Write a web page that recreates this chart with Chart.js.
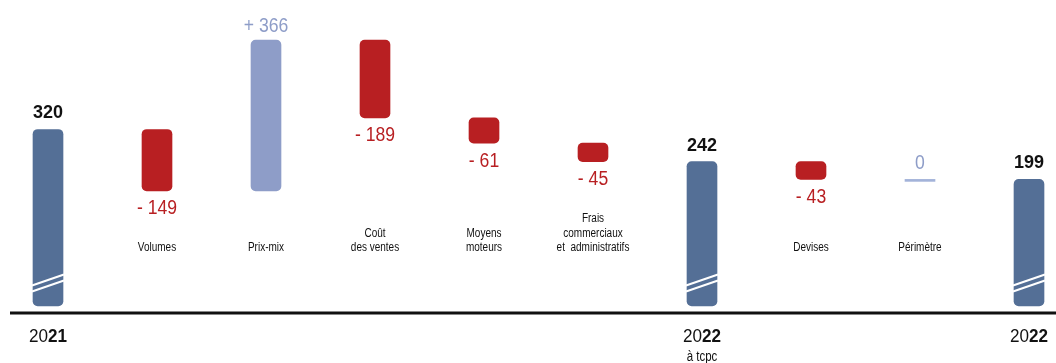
<!DOCTYPE html>
<html><head><meta charset="utf-8">
<script src="https://cdn.jsdelivr.net/npm/chart.js@4.4.1/dist/chart.umd.min.js"></script>
<style>html,body{margin:0;padding:0;background:#fff;}#wrap{width:1056px;height:363px;position:relative}</style>
</head><body><div id="wrap"><canvas id="c" width="1056" height="363"></canvas></div>
<script>
// ---- data ----
const categories = [
  ['2021'],
  ['Volumes'],
  ['Prix-mix'],
  ['Coût', 'des ventes'],
  ['Moyens', 'moteurs'],
  ['Frais', 'commerciaux', 'et  administratifs'],
  ['2022', 'à tcpc'],
  ['Devises'],
  ['Périmètre'],
  ['2022']
];
const values = [320, -149, 366, -189, -61, -45, 242, -43, 0, 199];
const kinds = ['total', 'delta', 'delta', 'delta', 'delta', 'delta', 'total', 'delta', 'delta', 'total'];

// ---- style ----
const BREAK_BASE = -108;   // visual base of the broken total bars
const FONT = "'Liberation Sans', Arial, sans-serif";
const C_TOTAL = '#546f96', C_NEG = '#b81f22', C_POS = '#8e9dc8', C_ZERO = '#a3b3d9';

// floating ranges built from the values
let cum = 0;
const ranges = values.map((v, i) => {
  if (kinds[i] === 'total') { cum = v; return [BREAK_BASE, v]; }
  const s = cum; cum += v; return [s, cum];
});
const colorOf = i => kinds[i] === 'total' ? C_TOTAL : values[i] < 0 ? C_NEG : values[i] > 0 ? C_POS : C_ZERO;

function txt(ctx, s, x, y, sx, align) {
  ctx.save();
  ctx.translate(x, y);
  ctx.scale(sx, 1);
  ctx.textAlign = align || 'center';
  ctx.fillText(s, 0, 0);
  ctx.restore();
}

const labelPlugin = {
  id: 'labels',
  afterDatasetsDraw(chart) {
    const ctx = chart.ctx;
    const meta = chart.getDatasetMeta(0);
    const area = chart.chartArea;
    ctx.save();
    // break stripes on total bars
    meta.data.forEach((el, i) => {
      if (kinds[i] !== 'total') return;
      const bottom = Math.max(el.y, el.base);
      const l = el.x - 16, r = el.x + 16;
      ctx.strokeStyle = '#fff'; ctx.lineWidth = 2;
      [[14, 25], [20, 31]].forEach(([a, b]) => {
        ctx.beginPath(); ctx.moveTo(l, bottom - a - 0.5); ctx.lineTo(r, bottom - b - 0.5); ctx.stroke();
      });
    });
    // axis line
    ctx.strokeStyle = '#111'; ctx.lineWidth = 3;
    ctx.beginPath(); ctx.moveTo(10, area.bottom); ctx.lineTo(1056, area.bottom); ctx.stroke();

    ctx.textBaseline = 'middle';
    meta.data.forEach((el, i) => {
      const v = values[i];
      const top = Math.min(el.y, el.base), bottom = Math.max(el.y, el.base);
      const x = el.x;
      if (kinds[i] === 'total') {
        ctx.fillStyle = '#111'; ctx.font = 'bold 18px ' + FONT;
        txt(ctx, String(v), x, top - 16, 1);
        // bottom label with bold last two digits
        const lines = categories[i];
        const t = lines[0], a = t.slice(0, 2), b = t.slice(2);
        ctx.font = '18px ' + FONT; const wa = ctx.measureText(a).width * 0.95;
        ctx.font = 'bold 18px ' + FONT; const wb = ctx.measureText(b).width * 0.95;
        const x0 = x - (wa + wb) / 2;
        ctx.font = '18px ' + FONT; txt(ctx, a, x0, 337, 0.95, 'left');
        ctx.font = 'bold 18px ' + FONT; txt(ctx, b, x0 + wa, 337, 0.95, 'left');
        if (lines[1]) { ctx.font = '14px ' + FONT; txt(ctx, lines[1], x, 357, 0.82); }
      } else {
        ctx.font = '20px ' + FONT;
        if (v < 0) { ctx.fillStyle = C_NEG; txt(ctx, '- ' + Math.abs(v), x, bottom + 18, 0.88); }
        else if (v > 0) { ctx.fillStyle = C_POS; txt(ctx, '+ ' + v, x, top - 14, 0.88); }
        else { ctx.fillStyle = C_POS; txt(ctx, '0', x, top - 16, 0.88); }
        const lines = categories[i];
        ctx.fillStyle = '#111'; ctx.font = '12.5px ' + FONT;
        lines.forEach((ln, k) => txt(ctx, ln, x, 247.5 - (lines.length - 1 - k) * 14.3, 0.8));
      }
    });
    ctx.restore();
  }
};

new Chart(document.getElementById('c'), {
  type: 'bar',
  data: {
    labels: categories.map(c => c.join(' ')),
    datasets: [{
      data: ranges,
      backgroundColor: values.map((v, i) => colorOf(i)),
      borderRadius: values.map((v, i) => (kinds[i] !== 'total' && v === 0) ? 0 : 5),
      borderSkipped: false,
      barThickness: 30,
      minBarLength: 2,
      clip: false
    }]
  },
  options: {
    responsive: false,
    animation: false,
    layout: { padding: { left: 48, right: 27, top: 0, bottom: 50 } },
    plugins: { legend: { display: false }, tooltip: { enabled: false } },
    scales: {
      x: { type: 'category', offset: false, display: false },
      y: { display: false, min: -125, max: 634 }
    }
  },
  plugins: [labelPlugin]
});
</script>
</body></html>
